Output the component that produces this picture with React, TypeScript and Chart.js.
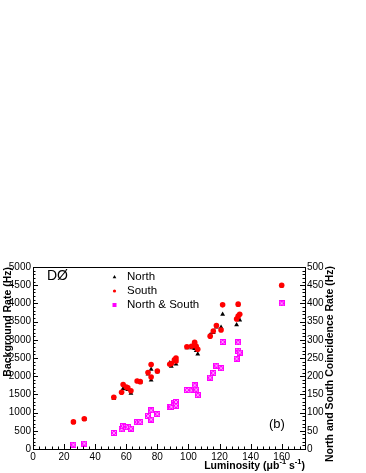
import React, { useEffect, useRef } from 'react';
import { Chart, registerables } from 'chart.js';

Chart.register(...registerables);

const luminosity = [26, 33, 52, 57, 58, 60, 61, 63, 67, 69, 74, 76, 76, 80, 88, 89, 91, 92, 92, 99, 102, 104, 104, 105, 106, 114, 116, 118, 121, 122, 131, 132, 132, 133, 160];
const southRate = [745, 830, 1420, 1560, 1770, 1700, 1680, 1600, 1870, 1850, 2100, 2320, 1980, 2140, 2330, 2350, 2450, 2500, 2420, 2810, 2820, 2930, 2870, 2820, 2740, 3100, 3240, 3390, 3270, 3960, 3570, 3980, 3650, 3700, 4500];
const northRate = [730, 810, 1390, 1550, 1660, 1650, 1630, 1530, 1860, 1830, 2060, 2190, 1890, 2120, 2370, 2270, 2400, 2330, 2400, 2780, 2780, 2760, 2830, 2700, 2610, 3140, 3200, 3350, 3340, 3700, 3410, 3960, 3620, 3540, 4480];
const coincidenceRate = [12, 15, 44, 54, 63, 61, 60, 56, 74, 74, 91, 106, 81, 96, 116, 116, 127, 129, 119, 162, 161, 175, 163, 163, 148, 196, 209, 229, 222, 294, 248, 293, 270, 265, 400];

const legendLabels = ['North', 'South', 'North & South'];
const xTitle = ['Luminosity (\u03bcb', '-1', ' s', '-1', ')'];
const leftTitle = 'Background Rate (Hz)';
const rightTitle = 'North and South Coincidence Rate (Hz)';

const FONT = '"Liberation Sans", Arial, Helvetica, sans-serif';

function makeCrossBox(size: number): HTMLCanvasElement {
  const c = document.createElement('canvas');
  c.width = size;
  c.height = size;
  const g = c.getContext('2d')!;
  g.fillStyle = '#ff00ff';
  g.fillRect(0, 0, size, size);
  g.strokeStyle = '#ffa0ff';
  g.lineWidth = 1;
  g.beginPath();
  g.moveTo(1, 1);
  g.lineTo(size - 1, size - 1);
  g.moveTo(size - 1, 1);
  g.lineTo(1, size - 1);
  g.stroke();
  return c;
}

const rootPlugin = {
  id: 'rootStyle',
  afterDraw(chart: any) {
    const { ctx, chartArea: a, scales } = chart;
    const xs = scales.x, ys = scales.y, y2s = scales.y2;
    ctx.save();
    ctx.strokeStyle = '#000';
    ctx.lineWidth = 1;
    ctx.strokeRect(Math.round(a.left) + 0.5, Math.round(a.top) + 0.5, Math.round(a.right - a.left), Math.round(a.bottom - a.top));
    ctx.beginPath();
    for (let v = 0; v <= 175; v += 4) {
      const px = Math.round(xs.getPixelForValue(v)) + 0.5;
      const L = v % 20 === 0 ? 5 : 2.5;
      ctx.moveTo(px, a.bottom);
      ctx.lineTo(px, a.bottom - L);
    }
    for (let v = 0; v <= 5000; v += 100) {
      const py = Math.round(ys.getPixelForValue(v)) + 0.5;
      const L = v % 500 === 0 ? 5 : 2.5;
      ctx.moveTo(a.left, py);
      ctx.lineTo(a.left + L, py);
    }
    for (let v = 0; v <= 500; v += 10) {
      const py = Math.round(y2s.getPixelForValue(v)) + 0.5;
      const L = v % 50 === 0 ? 5 : 2.5;
      ctx.moveTo(a.right, py);
      ctx.lineTo(a.right - L, py);
    }
    ctx.stroke();

    ctx.fillStyle = '#000';
    ctx.font = `bold 10.5px ${FONT}`;
    ctx.save();
    ctx.translate(8, a.top);
    ctx.rotate(-Math.PI / 2);
    ctx.textAlign = 'right';
    ctx.textBaseline = 'middle';
    ctx.fillText(leftTitle, 0, 0);
    ctx.restore();
    ctx.save();
    ctx.translate(330, a.top - 1);
    ctx.rotate(-Math.PI / 2);
    ctx.textAlign = 'right';
    ctx.textBaseline = 'middle';
    ctx.fillText(rightTitle, 0, 0);
    ctx.restore();
    const big = `bold 10.5px ${FONT}`;
    const small = `bold 7.5px ${FONT}`;
    let total = 0;
    xTitle.forEach((s, i) => {
      ctx.font = i % 2 === 1 ? small : big;
      total += ctx.measureText(s).width;
    });
    let cx = a.right - total;
    const ty = 466;
    ctx.textAlign = 'left';
    ctx.textBaseline = 'middle';
    xTitle.forEach((s, i) => {
      const sup = i % 2 === 1;
      ctx.font = sup ? small : big;
      ctx.fillText(s, cx, sup ? ty - 4 : ty);
      cx += ctx.measureText(s).width;
    });

    ctx.font = `14px ${FONT}`;
    ctx.fillText('D\u00d8', 47, 276);
    ctx.font = `13px ${FONT}`;
    ctx.fillText('(b)', 269, 424);

    const rows = [277, 291, 305];
    ctx.font = `11.5px ${FONT}`;
    legendLabels.forEach((t, i) => ctx.fillText(t, 127, rows[i]));
    const mx = 114.5;
    ctx.beginPath();
    ctx.moveTo(mx, rows[0] - 2);
    ctx.lineTo(mx + 1.8, rows[0] + 1.2);
    ctx.lineTo(mx - 1.8, rows[0] + 1.2);
    ctx.closePath();
    ctx.fill();
    ctx.fillStyle = '#ff0000';
    ctx.beginPath();
    ctx.arc(mx, rows[1], 1.6, 0, Math.PI * 2);
    ctx.fill();
    ctx.fillStyle = '#ff00ff';
    ctx.fillRect(mx - 2, rows[2] - 2, 4, 4);
    ctx.restore();
  },
};

export default function App() {
  const ref = useRef<HTMLCanvasElement>(null);
  useEffect(() => {
    if (!ref.current) return;
    const box = makeCrossBox(6);
    const tickFont = { family: FONT, size: 10 };
    const plain = (v: any) => String(v);
    const chart = new Chart(ref.current, {
      type: 'scatter',
      data: {
        datasets: [
          {
            label: legendLabels[0],
            data: luminosity.map((l, i) => ({ x: l, y: northRate[i] })),
            pointStyle: 'triangle',
            radius: 2.8,
            backgroundColor: '#000',
            borderWidth: 0,
            yAxisID: 'y',
            order: 2,
          },
          {
            label: legendLabels[1],
            data: luminosity.map((l, i) => ({ x: l, y: southRate[i] })),
            pointStyle: 'circle',
            radius: 2.8,
            backgroundColor: '#ff0000',
            borderWidth: 0,
            yAxisID: 'y',
            order: 1,
          },
          {
            label: legendLabels[2],
            data: luminosity.map((l, i) => ({ x: l, y: coincidenceRate[i] })),
            pointStyle: box as any,
            radius: 3,
            backgroundColor: '#ff00ff',
            borderWidth: 0,
            yAxisID: 'y2',
            order: 3,
          },
        ],
      },
      options: {
        responsive: false,
        animation: false,
        events: [],
        layout: { padding: { top: 267, left: 0, right: 0, bottom: 0 } },
        plugins: { legend: { display: false }, tooltip: { enabled: false } },
        scales: {
          x: {
            type: 'linear',
            min: 0,
            max: 175,
            grid: { display: false, drawTicks: false },
            border: { display: false },
            ticks: { stepSize: 20, includeBounds: false, font: tickFont, color: '#000', padding: 2, maxRotation: 0, callback: plain },
            afterFit(s: any) { s.height = 24; },
          },
          y: {
            type: 'linear',
            position: 'left',
            min: 0,
            max: 5000,
            grid: { display: false, drawTicks: false },
            border: { display: false },
            ticks: { stepSize: 500, font: tickFont, color: '#000', padding: 2, callback: plain },
            afterFit(s: any) { s.width = 33; },
          },
          y2: {
            type: 'linear',
            position: 'right',
            min: 0,
            max: 500,
            grid: { display: false, drawTicks: false },
            border: { display: false },
            ticks: { stepSize: 50, font: tickFont, color: '#000', padding: 2, callback: plain },
            afterFit(s: any) { s.width = 61; },
          },
        },
      },
      plugins: [rootPlugin],
    });
    return () => chart.destroy();
  }, []);
  return (
    <div style={{ position: 'absolute', left: 0, top: 0, width: 366, height: 473, background: '#fff' }}>
      <canvas ref={ref} width={366} height={473} />
    </div>
  );
}
